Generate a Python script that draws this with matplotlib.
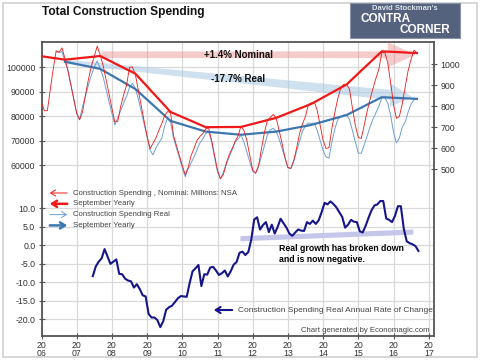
import numpy as np
import matplotlib
matplotlib.use("Agg")
import matplotlib.pyplot as plt
from matplotlib.patches import Polygon, Rectangle, FancyArrowPatch
import matplotlib.transforms as mtransforms

plt.rcParams['font.family'] = ['Liberation Sans', 'DejaVu Sans']

# monthly nominal construction spending, NSA, millions (Jan 2006 .. Sep 2016)
nominal = [85500, 82300, 82300, 91000, 99300, 106700, 106200, 107900, 103500, 98600, 92900, 87000,
           81200, 78700, 81800, 88800, 95100, 100400, 104600, 108600, 105000, 100800, 95100, 89300,
           83300, 77700, 78000, 84100, 88800, 92700, 100000, 100100, 97000, 90600, 84100, 78000,
           71900, 66800, 69000, 71200, 74300, 77100, 80400, 82000, 81500, 72200, 68200, 64100,
           60000, 56300, 59200, 64100, 66900, 70200, 71800, 73000, 75000, 75000, 70200, 64100,
           58000, 54700, 56300, 60800, 64500, 66900, 69800, 72000, 76000, 74300, 70200, 64100,
           58000, 56900, 60000, 66900, 73500, 78400, 79600, 80800, 79400, 74300, 69000, 63300,
           59200, 58800, 62000, 67300, 73100, 77100, 80000, 84900, 85500, 85900, 82400, 76300,
           70200, 66900, 67300, 75100, 81600, 87300, 91400, 93100, 93000, 91000, 83300, 76300,
           71400, 71000, 76300, 82000, 86900, 91400, 95500, 99200, 106000, 106100, 102000, 93900,
           84900, 79200, 80000, 85300, 92200, 98800, 103300, 107000, 105800]

# monthly real construction spending (Jun 2006 .. Sep 2016), right axis
real_start = 5
real = [1059, 1056, 1060, 1012, 974, 906, 835,
        766, 735, 799, 849, 901, 949, 985, 1016, 980, 940, 882, 823,
        766, 711, 745, 779, 814, 847, 889, 909, 885, 835, 776, 714,
        654, 592, 568, 601, 625, 647, 706, 744, 725, 649, 601, 554,
        506, 464, 501, 530, 558, 592, 625, 644, 670, 677, 630, 554,
        487, 453, 487, 525, 558, 592, 630, 644, 663, 630, 582, 534,
        491, 481, 511, 563, 611, 663, 687, 695, 680, 644, 599, 553,
        506, 504, 539, 587, 634, 682, 706, 720, 718, 720, 684, 636,
        590, 558, 553, 630, 692, 737, 749, 758, 758, 736, 684, 630,
        576, 576, 615, 658, 701, 739, 768, 799, 840, 842, 816, 758,
        677, 625, 649, 701, 725, 773, 811, 830, 835]

# September values
sep_nom_years = list(range(2005, 2017))
sep_nom = [105200, 103100, 104600, 97400, 81800, 75600, 75700, 79400, 85100, 93000, 106500, 105800]
sep_real_years = list(range(2006, 2017))
sep_real = [1012, 978, 882, 730, 679, 664, 679, 711, 758, 843, 835]

# real annual rate of change, % (Jun 2007 .. Sep 2016)
roc_start = 17
roc = [-8.3, -5.7, -4.4, -3.5, -1.0, -3.0, -5.0,
       -4.4, -3.8, -7.7, -7.8, -9.0, -9.5, -9.7, -11.4, -10.5, -11.8, -13.5, -13.8,
       -18.5, -19.5, -19.5, -20.2, -22.1, -20.5, -17.4, -16.7, -16.3, -15.3, -14.3, -13.7,
       -13.8, -13.9, -10.2, -7.0, -6.2, -5.3, -11.0, -7.8, -7.9, -6.0, -5.8, -6.8,
       -8.0, -7.5, -6.8, -8.4, -7.0, -5.2, -4.5, -2.0, -1.7, -2.6, -1.8, 1.5,
       7.0, 7.6, 4.3, 5.5, 6.3, 3.6, 5.6, 3.2, 5.0, 7.2, 6.0, 4.8,
       3.2, 2.6, 3.5, 4.3, 4.0, 3.9, 6.3, 5.8, 6.7, 5.8, 6.8, 9.0,
       11.5, 11.1, 11.9, 11.2, 10.3, 9.0, 7.7, 4.8, 5.6, 6.9, 6.4, 6.3,
       3.8, 3.5, 5.3, 7.5, 9.5, 10.8, 11.1, 12.0, 12.0, 7.3, 6.9, 6.3,
       8.0, 10.6, 10.6, 4.5, 1.1, 0.6, 0.3, -0.2, -1.5]

years = list(range(2006, 2018))
nom_ticks = [60000, 70000, 80000, 90000, 100000]
real_ticks = [500, 600, 700, 800, 900, 1000]
roc_ticks = [-20, -15, -10, -5, 0, 5, 10]

t_nom = 2006 + np.arange(len(nominal)) / 12
t_real = 2006 + (real_start + np.arange(len(real))) / 12
t_roc = 2006 + (roc_start + np.arange(len(roc)) + 0.5) / 12
t_sep_nom = np.array(sep_nom_years) + 8 / 12
t_sep_real = np.array(sep_real_years) + 8 / 12

W, H = 480, 363
fig = plt.figure(figsize=(W / 100, H / 100), dpi=100)


def fx(x):
    return x / W


def fy(y):
    return 1 - y / H


# outer frame
fig.patches.append(Rectangle((fx(3), fy(357)), fx(474), 354 / H, transform=fig.transFigure,
                             facecolor='white', edgecolor='#cfcfcf', lw=1.2, zorder=-5))

rect = [fx(41.5), fy(336), fx(434 - 41.5), (336 - 42) / H]
ax_roc = fig.add_axes(rect)
ax_nom = fig.add_axes(rect, sharex=ax_roc)
ax_real = ax_nom.twinx()
ax_roc.set_zorder(0)
ax_real.set_zorder(1)
ax_nom.set_zorder(2)
ax_nom.patch.set_visible(False)
ax_real.patch.set_visible(False)

ax_roc.set_xlim(2006, 2017.15)
ax_roc.set_ylim(-24.5, 55.0)
ax_nom.set_ylim(-9450, 110300)
ax_real.set_ylim(-295, 1106)

gc = '#d9d9d9'
spc = '#555555'
tc = '#333333'

# axes styling
for a in (ax_nom, ax_real):
    for s in a.spines.values():
        s.set_visible(False)
for s in ax_roc.spines.values():
    s.set_color(spc)
    s.set_linewidth(1.3)

ax_roc.set_xticks(years)
ax_roc.set_xticklabels([f"{y // 100}\n{y % 100:02d}" for y in years], linespacing=0.85)
ax_roc.set_yticks(roc_ticks)
ax_roc.set_yticklabels([f"{v:.1f}" for v in roc_ticks])
ax_roc.tick_params(direction='inout', length=5, color=spc, labelsize=6.3, labelcolor=tc, pad=2)
ax_roc.tick_params(axis='x', pad=1)
ax_roc.grid(True, color=gc, lw=0.9)
ax_roc.set_axisbelow(True)

ax_nom.set_yticks(nom_ticks)
ax_nom.set_yticklabels([str(v) for v in nom_ticks])
ax_nom.tick_params(axis='y', direction='inout', length=5, color=spc, labelsize=6.3, labelcolor=tc, pad=2)
ax_nom.tick_params(axis='x', bottom=False, labelbottom=False)
ax_real.set_yticks(real_ticks)
ax_real.set_yticklabels([str(v) for v in real_ticks])
ax_real.tick_params(axis='y', direction='inout', length=5, color=spc, labelsize=6.3, labelcolor=tc, pad=2)

# horizontal grid for nominal scale, drawn in the bottom axes
blend = mtransforms.blended_transform_factory(ax_roc.transAxes, ax_nom.transData)
for v in nom_ticks:
    ax_roc.plot([0, 1], [v, v], transform=blend, color=gc, lw=0.9, zorder=0.5)

# annotation bands (arrows)
yc = 105100
ax_nom.add_patch(Polygon([(2007.70, yc - 1350), (2015.84, yc - 1350), (2015.84, yc - 5100),
                          (2016.62, yc), (2015.84, yc + 5100), (2015.84, yc + 1350),
                          (2007.70, yc + 1350)], closed=True, facecolor='#e98c8c', alpha=0.45,
                         edgecolor='none', zorder=0.5))
ax_real.add_patch(Polygon([(2006.69, 1012 - 10), (2015.9, 854 - 24), (2015.9, 854 - 57),
                           (2016.55, 843), (2015.9, 854 + 57), (2015.9, 854 + 24),
                           (2006.69, 1012 + 10)], closed=True, facecolor='#a9c8e2', alpha=0.55,
                          edgecolor='none', zorder=0.5))
ax_roc.add_patch(Polygon([(2011.65, 1.8 - 0.7), (2016.56, 3.6 - 0.7), (2016.56, 3.6 + 0.7),
                          (2011.65, 1.8 + 0.7)], closed=True, facecolor='#c6c6ea',
                         edgecolor='none', zorder=1))

# data lines
red = '#f01818'
blue = '#3d77b0'
ax_real.plot(t_real, real, color='#6d9fd0', lw=0.7, zorder=2)
ax_real.plot(t_sep_real, sep_real, color=blue, lw=1.6, zorder=3)
ax_nom.plot(t_nom, nominal, color=red, lw=0.6, zorder=2)
ax_nom.plot(t_sep_nom, sep_nom, color=red, lw=1.6, zorder=3)
ax_roc.plot(t_roc, roc, color='#16168a', lw=1.5, zorder=3)

# text annotations
fig.text(fx(42), fy(12.5), 'Total Construction Spending', fontsize=8.6, fontweight='bold',
         color='#111111', va='center', ha='left')
fig.text(fx(238), fy(55.5), '+1.4% Nominal', fontsize=7, fontweight='bold', color='#111111',
         ha='center', va='center', zorder=10)
fig.text(fx(238), fy(78.5), '-17.7% Real', fontsize=7, fontweight='bold', color='#111111',
         ha='center', va='center', zorder=10)
fig.text(fx(279), fy(254), 'Real growth has broken down\nand is now negative.', fontsize=6.3,
         fontweight='bold', color='#000000', ha='left', va='center', linespacing=1.3, zorder=10)
fig.text(fx(430), fy(330.5), 'Chart generated by Economagic.com', fontsize=5.6, color='#444444',
         ha='right', va='center', zorder=10)

# legend entries
legend_items = [('Construction Spending , Nominal: Millions: NSA', red, 0.7, 'left'),
                ('September Yearly', red, 1.8, 'left'),
                ('Construction Spending Real', '#6d9fd0', 0.7, 'right'),
                ('September Yearly', blue, 1.8, 'right')]
for i, (lab, col, lw, side) in enumerate(legend_items):
    yy = 193 + i * 10.8
    if side == 'left':
        start, end = (70, yy), (47, yy)
    else:
        start, end = (47, yy), (70, yy)
    fig.add_artist(FancyArrowPatch(
        (fx(start[0]), fy(start[1])), (fx(end[0]), fy(end[1])), transform=fig.transFigure,
        arrowstyle='->,head_length=3.5,head_width=2.2', color=col, lw=lw, zorder=10))
    fig.text(fx(73), fy(yy), lab, fontsize=5.6, color='#444444', va='center', ha='left', zorder=10)

fig.add_artist(FancyArrowPatch(
    (fx(235), fy(310)), (fx(211), fy(310)), transform=fig.transFigure,
    arrowstyle='->,head_length=3.5,head_width=2.2', color='#16168a', lw=1.5, zorder=10))
fig.text(fx(238), fy(310), 'Construction Spending Real Annual Rate of Change', fontsize=6.0,
         color='#444444', va='center', ha='left', zorder=10)

# logo block
fig.patches.append(Rectangle((fx(350), fy(38)), fx(110), 35 / H, transform=fig.transFigure,
                             facecolor='#55627e', edgecolor='#8a93a8', lw=0.8, zorder=5))
fig.text(fx(405), fy(8), "David Stockman's", fontsize=5.5, fontweight='bold', color='#dfe4ee',
         ha='center', va='center', zorder=6)
fig.text(fx(386), fy(19), 'CONTRA', fontsize=8.5, fontweight='bold', color='white',
         ha='center', va='center', zorder=6)
fig.text(fx(425), fy(30), 'CORNER', fontsize=8.5, fontweight='bold', color='white',
         ha='center', va='center', zorder=6)

fig.savefig('out.png', dpi=100)
